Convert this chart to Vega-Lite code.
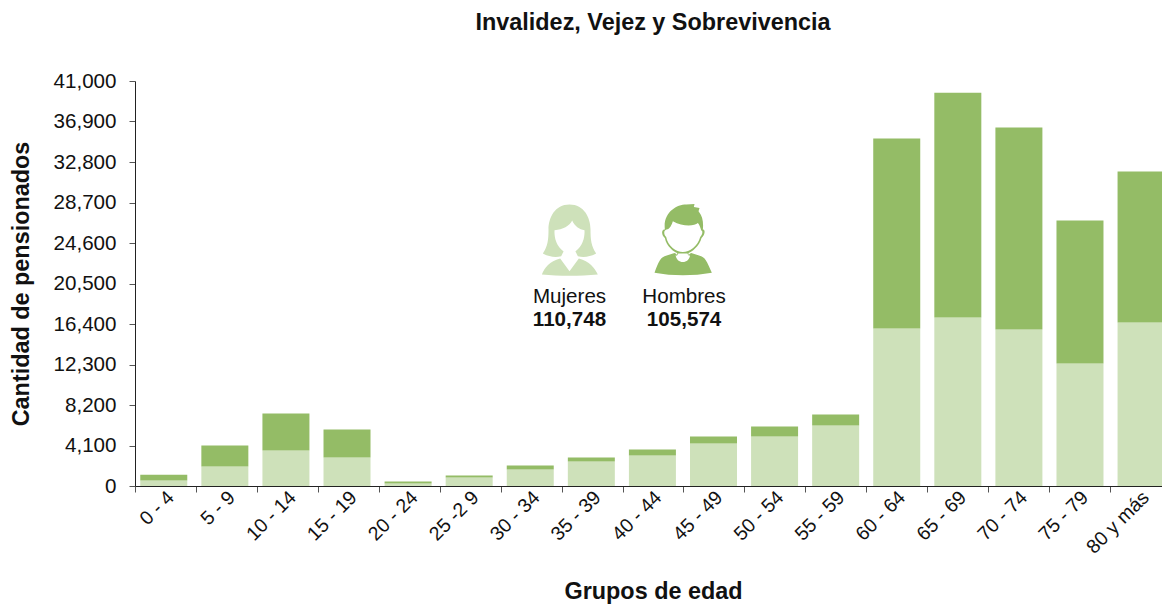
{
"$schema":"https://vega.github.io/schema/vega-lite/v6.json",
"width":1036,"height":405,
"autosize":"none",
"padding":{"left":135,"top":81,"right":0,"bottom":118},
"background":"white",
"config":{"view":{"stroke":null},"font":"Liberation Sans"},
"title":{"text":"Invalidez, Vejez y Sobrevivencia","fontSize":23.4,"fontWeight":"bold","font":"Liberation Sans","color":"#111111","anchor":"middle","offset":36},
"resolve":{"scale":{"x":"independent"},"axis":{"x":"independent"}},
"layer":[
{"data":{"values":[
{"grupo":"0 - 4"},{"grupo":"5 - 9"},{"grupo":"10 - 14"},{"grupo":"15 - 19"},{"grupo":"20 - 24"},{"grupo":"25 -2 9"},{"grupo":"30 - 34"},{"grupo":"35 - 39"},{"grupo":"40 - 44"},{"grupo":"45 - 49"},{"grupo":"50 - 54"},{"grupo":"55 - 59"},{"grupo":"60 - 64"},{"grupo":"65 - 69"},{"grupo":"70 - 74"},{"grupo":"75 - 79"},{"grupo":"80 y más"}
]},
"mark":{"type":"rule","opacity":0},
"encoding":{
"x":{"field":"grupo","type":"nominal","sort":null,"scale":{"paddingInner":0,"paddingOuter":0},
"axis":{"title":"Grupos de edad","titleFontSize":23.4,"titleFontWeight":"bold","titleColor":"#111111","titlePadding":24,"labelFontSize":19.5,"labelColor":"#111111","labelAngle":-45,"labelAlign":"right","labelBaseline":"middle","labelPadding":2,"labelOffset":5,"tickBand":"extent","tickSize":6,"tickColor":"#555555","domainColor":"#222222","grid":false}}
}},
{"data":{"values":[
{"grupo":"0 - 4","sexo":"Mujeres","valor":550},{"grupo":"0 - 4","sexo":"Hombres","valor":600},
{"grupo":"5 - 9","sexo":"Mujeres","valor":1970},{"grupo":"5 - 9","sexo":"Hombres","valor":2130},
{"grupo":"10 - 14","sexo":"Mujeres","valor":3590},{"grupo":"10 - 14","sexo":"Hombres","valor":3750},
{"grupo":"15 - 19","sexo":"Mujeres","valor":2890},{"grupo":"15 - 19","sexo":"Hombres","valor":2830},
{"grupo":"20 - 24","sexo":"Mujeres","valor":250},{"grupo":"20 - 24","sexo":"Hombres","valor":200},
{"grupo":"25 -2 9","sexo":"Mujeres","valor":860},{"grupo":"25 -2 9","sexo":"Hombres","valor":200},
{"grupo":"30 - 34","sexo":"Mujeres","valor":1670},{"grupo":"30 - 34","sexo":"Hombres","valor":410},
{"grupo":"35 - 39","sexo":"Mujeres","valor":2480},{"grupo":"35 - 39","sexo":"Hombres","valor":410},
{"grupo":"40 - 44","sexo":"Mujeres","valor":3090},{"grupo":"40 - 44","sexo":"Hombres","valor":600},
{"grupo":"45 - 49","sexo":"Mujeres","valor":4300},{"grupo":"45 - 49","sexo":"Hombres","valor":710},
{"grupo":"50 - 54","sexo":"Mujeres","valor":5010},{"grupo":"50 - 54","sexo":"Hombres","valor":1010},
{"grupo":"55 - 59","sexo":"Mujeres","valor":6120},{"grupo":"55 - 59","sexo":"Hombres","valor":1120},
{"grupo":"60 - 64","sexo":"Mujeres","valor":15940},{"grupo":"60 - 64","sexo":"Hombres","valor":19230},
{"grupo":"65 - 69","sexo":"Mujeres","valor":17050},{"grupo":"65 - 69","sexo":"Hombres","valor":22770},
{"grupo":"70 - 74","sexo":"Mujeres","valor":15840},{"grupo":"70 - 74","sexo":"Hombres","valor":20440},
{"grupo":"75 - 79","sexo":"Mujeres","valor":12400},{"grupo":"75 - 79","sexo":"Hombres","valor":14470},
{"grupo":"80 y más","sexo":"Mujeres","valor":16550},{"grupo":"80 y más","sexo":"Hombres","valor":15280}
]},
"mark":{"type":"bar"},
"encoding":{
"x":{"field":"grupo","type":"nominal","sort":null,"scale":{"paddingInner":0.2305,"paddingOuter":0.0958,"align":0.45},"axis":null},
"y":{"field":"valor","type":"quantitative","stack":"zero","scale":{"domain":[0,41000],"nice":false},
"axis":{"title":"Cantidad de pensionados","titleFontSize":23.4,"titleFontWeight":"bold","titleColor":"#111111","titlePadding":20,"labelFontSize":20.6,"labelColor":"#111111","labelPadding":13,"format":",d","values":[0,4100,8200,12300,16400,20500,24600,28700,32800,36900,41000],"tickSize":6,"tickColor":"#555555","domainColor":"#222222","grid":false}},
"color":{"field":"sexo","type":"nominal","scale":{"domain":["Mujeres","Hombres"],"range":["#CEE1BA","#94BC66"]},"legend":null},
"order":{"field":"sexo","sort":"descending"}
}},
{"data":{"values":[{"posicion":7.13,"altura":24950}]},
"mark":{"type":"point","filled":true,"opacity":1,"size":4444,"color":"#CEE1BA","shape":"M0 -1.05 C.44 -1.05 .63 -.65 .63 -.3 C.63 0 .65 .2 .8 .42 C.65 .5 .45 .55 .25 .5 L.15 .3 L-.15 .3 L-.25 .5 C-.45 .55 -.65 .5 -.8 .42 C-.65 .2 -.63 0 -.63 -.3 C-.63 -.65 -.44 -1.05 0 -1.05 Z M-.83 1.05 C-.75 .85 -.6 .65 -.28 .57 L0 .95 L.28 .57 C.6 .65 .75 .85 .85 1.05 C.3 1.1 -.3 1.1 -.83 1.05 Z"},
"encoding":{"x":{"field":"posicion","type":"quantitative","scale":{"domain":[0,17]},"axis":null},"y":{"field":"altura","type":"quantitative"}}},
{"data":{"values":[{"posicion":7.13,"altura":24950}]},
"mark":{"type":"point","filled":true,"opacity":1,"size":4444,"color":"#FFFFFF","shape":"M-.45 -.28 C-.2 -.3 0 -.4 .08 -.57 C.15 -.4 .3 -.3 .45 -.28 C.47 .1 .25 .4 0 .4 C-.25 .4 -.47 .1 -.45 -.28 Z"},
"encoding":{"x":{"field":"posicion","type":"quantitative","scale":{"domain":[0,17]},"axis":null},"y":{"field":"altura","type":"quantitative"}}},
{"data":{"values":[{"posicion":8.99,"altura":24950}]},
"mark":{"type":"point","filled":true,"opacity":1,"size":4444,"color":"#94BC66","shape":"M-.54 -.3 C-.6 -.8 -.2 -1.05 .1 -1.05 L.35 -1.07 L.33 -.98 L.5 -.95 L.47 -.85 C.6 -.7 .62 -.5 .6 -.3 C.68 -.32 .67 -.12 .56 -.05 C.5 .2 .25 .38 .17 .4 L.17 .46 L.22 .42 L.25 .4 C.25 .75 -.25 .75 -.25 .4 L-.22 .42 L-.17 .46 L-.17 .4 C-.25 .38 -.5 .2 -.54 -.05 C-.65 -.12 -.65 -.32 -.54 -.3 Z M-.85 1 C-.78 .8 -.7 .55 -.55 .5 L-.25 .4 C-.25 .75 .25 .75 .25 .4 L.55 .5 C.7 .55 .78 .8 .87 1 C.3 1.1 -.3 1.1 -.85 1 Z"},
"encoding":{"x":{"field":"posicion","type":"quantitative","scale":{"domain":[0,17]},"axis":null},"y":{"field":"altura","type":"quantitative"}}},
{"data":{"values":[{"posicion":8.99,"altura":24950}]},
"mark":{"type":"point","filled":true,"opacity":1,"size":4444,"color":"#FFFFFF","shape":"M-.49 -.3 C-.4 -.3 -.33 -.45 -.3 -.55 C0 -.38 .35 -.4 .45 -.5 C.5 -.45 .53 -.35 .55 -.27 C.6 -.28 .6 -.15 .52 -.08 C.45 .2 .2 .37 0 .37 C-.2 .37 -.45 .2 -.5 -.08 C-.58 -.15 -.58 -.28 -.49 -.3 Z M-.14 .42 L.14 .42 C.16 .5 .22 .5 .22 .45 C.2 .75 -.2 .75 -.22 .45 C-.22 .5 -.16 .5 -.14 .42 Z"},
"encoding":{"x":{"field":"posicion","type":"quantitative","scale":{"domain":[0,17]},"axis":null},"y":{"field":"altura","type":"quantitative"}}},
{"data":{"values":[{"posicion":7.13,"altura":19100,"texto":"Mujeres"},{"posicion":9.01,"altura":19100,"texto":"Hombres"}]},
"mark":{"type":"text","fontSize":20.6,"color":"#111111","align":"center","baseline":"middle"},
"encoding":{"x":{"field":"posicion","type":"quantitative","scale":{"domain":[0,17]},"axis":null},"y":{"field":"altura","type":"quantitative"},"text":{"field":"texto"}}},
{"data":{"values":[{"posicion":7.13,"altura":16780,"texto":"110,748"},{"posicion":9.01,"altura":16780,"texto":"105,574"}]},
"mark":{"type":"text","fontSize":20.6,"fontWeight":"bold","color":"#111111","align":"center","baseline":"middle"},
"encoding":{"x":{"field":"posicion","type":"quantitative","scale":{"domain":[0,17]},"axis":null},"y":{"field":"altura","type":"quantitative"},"text":{"field":"texto"}}}
]
}
